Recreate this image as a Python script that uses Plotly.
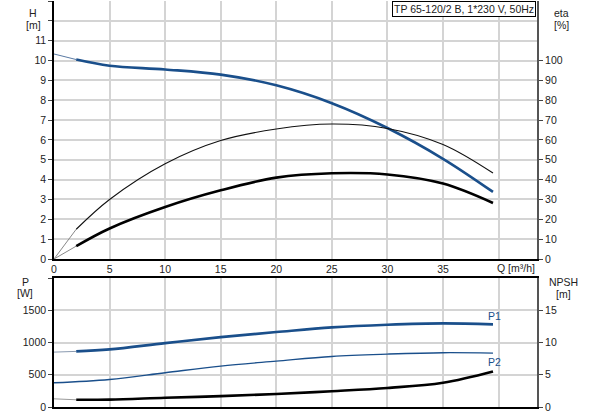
import plotly.graph_objs as go

# flow points (m3/h)
q_pts = [2, 5, 10, 15, 20, 25, 30, 35, 39.5]
q_ext = [0, 2]

# top chart: head and efficiencies
head = [10.05, 9.74, 9.55, 9.29, 8.75, 7.85, 6.6, 5.05, 3.38]
head_ext = [10.33, 10.05]
eta_pump = [15, 30, 48, 59.7, 65.5, 68, 65.8, 57.7, 43.3]
eta_pump_ext = [0, 15]
eta_total = [6.5, 15.4, 26.2, 34.6, 41, 43.2, 42.6, 38, 28.2]
eta_total_ext = [0, 6.5]

# bottom chart: power and NPSH
q_p2 = [0, 5, 10, 15, 20, 25, 30, 35, 39.5]
p1 = [862, 893, 991, 1084, 1162, 1235, 1276, 1297, 1281]
p1_ext = [851, 862]
p2 = [376, 427, 531, 634, 711, 784, 820, 842, 835]
npsh = [1.12, 1.15, 1.43, 1.68, 2.02, 2.45, 2.95, 3.76, 5.51]
npsh_ext = [1.27, 1.12]

q_ticks = [0, 5, 10, 15, 20, 25, 30, 35, 40]
q_labels = ["0", "5", "10", "15", "20", "25", "30", "35", ""]
h_ticks = list(range(0, 14))
h_labels = [str(v) for v in range(0, 12)] + ["", ""]
eta_ticks = list(range(0, 101, 10))
p_ticks = [0, 500, 1000, 1500, 2000]
p_labels = ["0", "500", "1000", "1500", ""]
npsh_ticks = [0, 5, 10, 15]

BLUE = "#1a4f8b"
GRID = "#d4d4d4"
FONT = dict(family="Liberation Sans, Arial, sans-serif", size=10.5, color="#222")

fig = go.Figure()


def line(x, y, color, width, xa="x", ya="y"):
    fig.add_trace(go.Scatter(x=x, y=y, mode="lines", xaxis=xa, yaxis=ya,
                             line=dict(color=color, width=width, shape="spline"),
                             showlegend=False, hoverinfo="skip"))


# top chart
line(q_ext, head_ext, "#5a7aa3", 1)
line(q_pts, head, BLUE, 2.6)
line(q_ext, eta_pump_ext, "#888", 1, ya="y2")
line(q_pts, eta_pump, "#111", 1.1, ya="y2")
line(q_ext, eta_total_ext, "#888", 1, ya="y2")
line(q_pts, eta_total, "#000", 2.6, ya="y2")

# bottom chart
line(q_ext, p1_ext, "#8a9ab0", 1, xa="x2", ya="y3")
line(q_pts, p1, BLUE, 2.6, xa="x2", ya="y3")
line(q_p2, p2, BLUE, 1.4, xa="x2", ya="y3")
line(q_ext, npsh_ext, "#999", 1, xa="x2", ya="y4")
line(q_pts, npsh, "#000", 2.6, xa="x2", ya="y4")

x_range = [0, 43.46]
top_dom = [0.3645, 1]
bot_dom = [0, 0.3177]

fig.update_layout(
    template="none",
    width=593, height=415,
    margin=dict(l=54, r=56, t=1, b=8),
    paper_bgcolor="white", plot_bgcolor="white",
    font=FONT,
    xaxis=dict(domain=[0, 1], range=x_range, anchor="y", tickvals=q_ticks, ticktext=q_labels,
               showgrid=True, gridcolor=GRID, gridwidth=1.5, showline=True, linecolor="#000",
               linewidth=1.5, zeroline=False, ticks="", automargin=False),
    yaxis=dict(domain=top_dom, range=[0, 13], tickvals=h_ticks, ticktext=h_labels,
               showgrid=True, gridcolor=GRID, gridwidth=1.5, showline=True, linecolor="#000",
               linewidth=1.5, zeroline=False, ticks="outside", ticklen=4, tickcolor="#444",
               automargin=False),
    yaxis2=dict(overlaying="y", side="right", range=[0, 130], tickvals=eta_ticks,
                showgrid=False, showline=True, linecolor="#555", linewidth=2,
                zeroline=False, ticks="outside", ticklen=4, tickcolor="#444", automargin=False),
    xaxis2=dict(domain=[0, 1], range=x_range, anchor="y3", tickvals=q_ticks,
                showticklabels=False, showgrid=True, gridcolor=GRID, gridwidth=1.5,
                showline=True, linecolor="#000", linewidth=1.5, mirror=True,
                zeroline=False, ticks="", automargin=False),
    yaxis3=dict(domain=bot_dom, range=[0, 2000], tickvals=p_ticks, ticktext=p_labels,
                showgrid=True, gridcolor=GRID, gridwidth=1.5, showline=True, linecolor="#000",
                linewidth=1.5, zeroline=False, ticks="outside", ticklen=4, tickcolor="#444",
                automargin=False),
    yaxis4=dict(overlaying="y3", side="right", range=[0, 20], tickvals=npsh_ticks,
                showgrid=False, showline=True, linecolor="#555", linewidth=2,
                zeroline=False, ticks="outside", ticklen=4, tickcolor="#444", automargin=False),
)

notes = [
    (33, 13, "H", "center"), (33, 25, "[m]", "center"),
    (561, 13, "eta", "center"), (561, 25, "[%]", "center"),
    (25, 282, "P", "center"), (25, 293, "[W]", "center"),
    (563, 282, "NPSH", "center"), (563, 294, "[m]", "center"),
]
for x, y, txt, anc in notes:
    fig.add_annotation(xref="paper", yref="paper", x=(x - 54) / 483, y=(407 - y) / 406,
                       text=txt, showarrow=False, xanchor=anc, yanchor="middle", font=FONT)

# flow axis label in place of the 40 tick
fig.add_annotation(xref="paper", yref="paper", x=(495 - 54) / 483, y=(407 - 268) / 406,
                   text="Q [m³/h]", showarrow=False, xanchor="left", yanchor="middle", font=FONT)

# curve labels
fig.add_annotation(x=39.6, y=1290, xref="x2", yref="y3", text="P1", showarrow=False,
                   yanchor="bottom", font=dict(family=FONT["family"], size=10.5, color=BLUE))
fig.add_annotation(x=39.6, y=820, xref="x2", yref="y3", text="P2", showarrow=False,
                   yanchor="top", font=dict(family=FONT["family"], size=10.5, color=BLUE))

# pump name box
fig.add_annotation(xref="paper", yref="paper", x=(536 - 54) / 483, y=1.0,
                   text="TP 65-120/2 B, 1*230 V, 50Hz", showarrow=False,
                   xanchor="right", yanchor="top", bgcolor="white",
                   bordercolor="#000", borderwidth=1, borderpad=1, font=FONT)

# the page body has a default 8px margin; drop it so the chart fills the window
fig.write_html("out.html", config={"displayModeBar": False},
               post_script="document.body.style.margin='0';")
